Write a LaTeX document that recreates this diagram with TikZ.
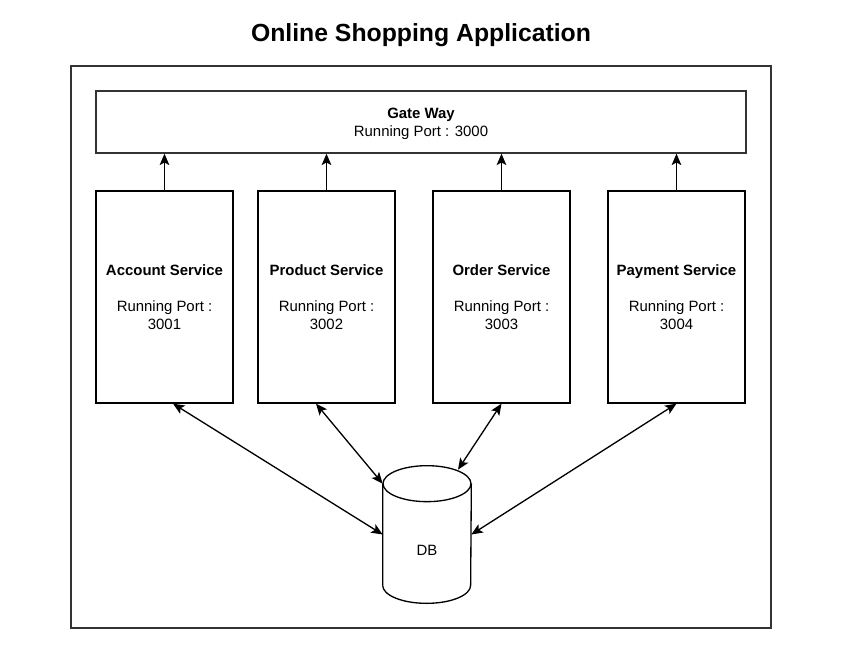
\documentclass[tikz,border=0pt]{standalone}
\usepackage{fontspec}
\setmainfont{Liberation Sans}
\usetikzlibrary{arrows.meta,positioning}

\tikzset{
  svc/.style={draw, line width=0.75pt, minimum width=2.74cm, minimum height=4.24cm, align=center, font=\fontsize{8.5}{10.2}\selectfont},
  frame/.style={draw=black!80, line width=0.75pt},
  link/.style={line width=0.75pt, -{Stealth[length=6.5pt,width=5.5pt,inset=1.5pt]}},
  dblink/.style={line width=0.75pt, {Stealth[length=6.5pt,width=5.5pt,inset=1.5pt]}-{Stealth[length=6.5pt,width=5.5pt,inset=1.5pt]}},
}

\begin{document}
\begin{tikzpicture}[x=0.02cm, y=-0.02cm]
  \useasboundingbox (0,0) rectangle (842,647);
  \node[font=\fontsize{14.1}{17}\selectfont\bfseries] (title) at (421,35) {Online Shopping Application};
  \node[frame, minimum width=14cm, minimum height=11.24cm] (app) at (421,347) {};
  \node[frame, minimum width=13cm, minimum height=1.24cm] (gw) at (421,122) {};
  \node[align=center, font=\fontsize{8.5}{10.2}\selectfont] (gwtext) at (421,124) {\textbf{Gate Way}\\Running Port : 3000};
  \node[svc] (acc) at (164.5,297) {\textbf{Account Service}\\[\baselineskip]Running Port :\\3001};
  \node[svc] (prod) at (326.5,297) {\textbf{Product Service}\\[\baselineskip]Running Port :\\3002};
  \node[svc] (ord) at (501.5,297) {\textbf{Order Service}\\[\baselineskip]Running Port :\\3003};
  \node[svc] (pay) at (676.5,297) {\textbf{Payment Service}\\[\baselineskip]Running Port :\\3004};
  % the database drum
  \node[minimum width=1.76cm, minimum height=2.74cm] (db) at (427,534.5) {};
  \draw[line width=0.75pt] ([yshift=-0.36cm]db.north west) -- ([yshift=0.36cm]db.south west)
    arc[start angle=180, end angle=360, x radius=0.88cm, y radius=0.36cm]
    -- ([yshift=-0.36cm]db.north east);
  \draw[line width=0.75pt] ([yshift=-0.36cm]db.north) ellipse [x radius=0.88cm, y radius=0.36cm];
  \node[font=\fontsize{8.5}{10.2}\selectfont] (dbtext) at (427,550) {DB};
  % services up to the gateway
  \draw[link] (acc.north) -- (acc.north |- gw.south);
  \draw[link] (prod.north) -- (prod.north |- gw.south);
  \draw[link] (ord.north) -- (ord.north |- gw.south);
  \draw[link] (pay.north) -- (pay.north |- gw.south);
  % services and the database
  \draw[dblink] ([xshift=0.17cm]acc.south) -- (db.west);
  \draw[dblink] ([xshift=-0.21cm]prod.south) -- ([yshift=-0.36cm]db.north west);
  \draw[dblink] (ord.south) -- ([xshift=0.62cm,yshift=-0.08cm]db.north);
  \draw[dblink] (pay.south) -- (db.east);
\end{tikzpicture}
\end{document}
